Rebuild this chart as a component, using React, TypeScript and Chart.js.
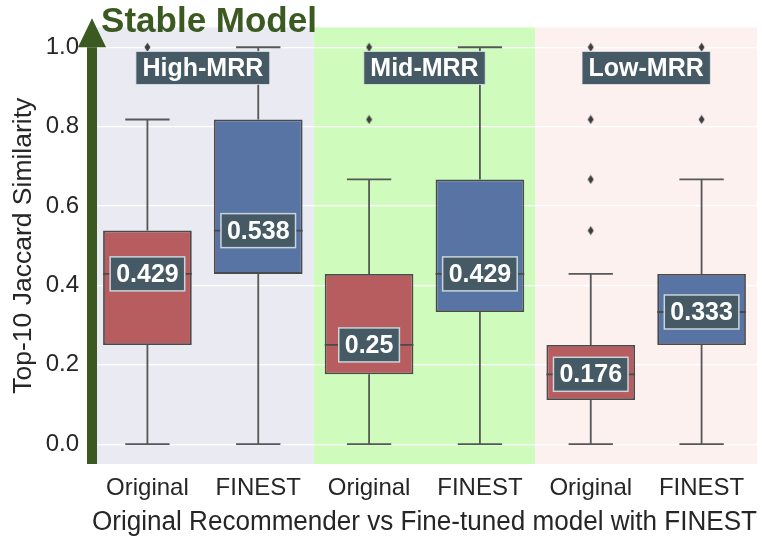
import React, { useEffect, useRef } from 'react';
import { Chart, registerables } from 'chart.js';

Chart.register(...registerables);

const categories = ['Original', 'FINEST', 'Original', 'FINEST', 'Original', 'FINEST'];
const groups = ['High-MRR', 'Mid-MRR', 'Low-MRR'];
const whiskerLow = [0, 0, 0, 0, 0, 0];
const q1 = [0.25, 0.429, 0.176, 0.333, 0.111, 0.25];
const medians = [0.429, 0.538, 0.25, 0.429, 0.176, 0.333];
const q3 = [0.538, 0.818, 0.429, 0.667, 0.25, 0.429];
const whiskerHigh = [0.818, 1.0, 0.667, 1.0, 0.429, 0.667];
const outliers = [[1.0], [], [1.0, 0.818], [], [1.0, 0.818, 0.667, 0.538], [1.0, 0.818]];
const yTicks = [0, 0.2, 0.4, 0.6, 0.8, 1.0];
const medianLabels = ['0.429', '0.538', '0.25', '0.429', '0.176', '0.333'];

const FONT = "'Liberation Sans', Arial, sans-serif";
const panelColors = ['#eaeaf2', '#cffcbd', '#fdf1f0'];
const boxColors = ['#b75d60', '#5874a4', '#b75d60', '#5874a4', '#b75d60', '#5874a4'];
const LINE = '#575757';
const LABEL_BG = '#455a64';
const GREEN = '#3a5a22';

function makeDiamond(): HTMLCanvasElement {
  const c = document.createElement('canvas');
  c.width = 7;
  c.height = 10;
  const g = c.getContext('2d')!;
  g.fillStyle = '#3d3d3d';
  g.beginPath();
  g.moveTo(3.5, 0.5);
  g.lineTo(6.5, 5);
  g.lineTo(3.5, 9.5);
  g.lineTo(0.5, 5);
  g.closePath();
  g.fill();
  return c;
}

const extras = {
  id: 'extras',
  beforeDraw(chart: any) {
    const { ctx, chartArea, scales } = chart;
    const x = scales.x;
    const half = (x.getPixelForValue(1) - x.getPixelForValue(0)) / 2;
    ctx.save();
    panelColors.forEach((c, g) => {
      const l = x.getPixelForValue(2 * g) - half;
      const r = x.getPixelForValue(2 * g + 1) + half;
      ctx.fillStyle = c;
      ctx.fillRect(l, chartArea.top, r - l, chartArea.bottom - chartArea.top);
    });
    ctx.restore();
  },
  beforeDatasetsDraw(chart: any) {
    const { ctx, scales } = chart;
    const x = scales.x, y = scales.y;
    const bw = (x.getPixelForValue(1) - x.getPixelForValue(0)) * 0.8;
    ctx.save();
    ctx.strokeStyle = LINE;
    ctx.lineWidth = 1.8;
    categories.forEach((_, i) => {
      const cx = x.getPixelForValue(i);
      const segs = [[q3[i], whiskerHigh[i]], [q1[i], whiskerLow[i]]];
      segs.forEach(([a, b]) => {
        ctx.beginPath();
        ctx.moveTo(cx, y.getPixelForValue(a));
        ctx.lineTo(cx, y.getPixelForValue(b));
        ctx.moveTo(cx - bw / 4, y.getPixelForValue(b));
        ctx.lineTo(cx + bw / 4, y.getPixelForValue(b));
        ctx.stroke();
      });
    });
    ctx.restore();
  },
  afterDatasetsDraw(chart: any) {
    const { ctx, scales, chartArea } = chart;
    const x = scales.x, y = scales.y;
    const bw = (x.getPixelForValue(1) - x.getPixelForValue(0)) * 0.8;
    ctx.save();
    categories.forEach((_, i) => {
      const cx = x.getPixelForValue(i);
      const my = y.getPixelForValue(medians[i]);
      ctx.strokeStyle = '#4a4a4a';
      ctx.lineWidth = 1.8;
      ctx.beginPath();
      ctx.moveTo(cx - bw / 2, my);
      ctx.lineTo(cx + bw / 2, my);
      ctx.stroke();
      ctx.font = `bold 25px ${FONT}`;
      const tw = ctx.measureText(medianLabels[i]).width;
      const w = tw + 12, h = 34;
      ctx.fillStyle = LABEL_BG;
      ctx.fillRect(cx - w / 2, my - h / 2, w, h);
      ctx.strokeStyle = '#c9d4db';
      ctx.lineWidth = 1.5;
      ctx.strokeRect(cx - w / 2, my - h / 2, w, h);
      ctx.fillStyle = '#ffffff';
      ctx.textAlign = 'center';
      ctx.textBaseline = 'middle';
      ctx.fillText(medianLabels[i], cx, my + 1);
    });
    const half = (x.getPixelForValue(1) - x.getPixelForValue(0)) / 2;
    groups.forEach((g, gi) => {
      const l = x.getPixelForValue(2 * gi) - half;
      const r = x.getPixelForValue(2 * gi + 1) + half;
      const cx = (l + r) / 2;
      const cy = chartArea.top + 40.5;
      ctx.font = `bold 25px ${FONT}`;
      const tw = ctx.measureText(g).width;
      const w = tw + 13, h = 33;
      ctx.fillStyle = LABEL_BG;
      ctx.fillRect(cx - w / 2, cy - h / 2, w, h);
      ctx.strokeStyle = '#dfe6ea';
      ctx.lineWidth = 0.8;
      ctx.strokeRect(cx - w / 2, cy - h / 2, w, h);
      ctx.fillStyle = '#ffffff';
      ctx.textAlign = 'center';
      ctx.textBaseline = 'middle';
      ctx.fillText(g, cx, cy + 1);
    });
    ctx.restore();
  },
  afterDraw(chart: any) {
    const { ctx, chartArea, scales } = chart;
    const y = scales.y;
    const ax = chartArea.left;
    const headBase = y.getPixelForValue(1.0);
    ctx.save();
    ctx.fillStyle = GREEN;
    ctx.fillRect(ax - 5, headBase, 10, chartArea.bottom - headBase);
    ctx.beginPath();
    ctx.moveTo(ax - 14, headBase);
    ctx.lineTo(ax + 14, headBase);
    ctx.lineTo(ax, headBase - 29);
    ctx.closePath();
    ctx.fill();
    ctx.font = `bold 35px ${FONT}`;
    ctx.textAlign = 'center';
    ctx.textBaseline = 'alphabetic';
    ctx.fillText('Stable Model', ax + 117, 32);
    ctx.restore();
  },
};

export default function App() {
  const ref = useRef<HTMLCanvasElement>(null);
  useEffect(() => {
    if (!ref.current) return;
    const keys = categories.map((_, i) => String(i));
    const outlierPts: { x: string; y: number }[] = [];
    outliers.forEach((arr, i) => arr.forEach((v) => outlierPts.push({ x: keys[i], y: v })));
    const chart = new Chart(ref.current, {
      type: 'bar',
      data: {
        labels: keys,
        datasets: [
          {
            type: 'bar',
            data: categories.map((_, i) => [q1[i], q3[i]]) as any,
            backgroundColor: boxColors,
            borderColor: '#4a4a4a',
            borderWidth: 1.8,
            borderSkipped: false,
            barPercentage: 0.8,
            categoryPercentage: 1,
            order: 2,
          } as any,
          {
            type: 'scatter',
            data: outlierPts,
            pointStyle: makeDiamond(),
            pointRadius: 4,
            showLine: false,
            order: 1,
          } as any,
        ],
      },
      options: {
        responsive: false,
        animation: false,
        layout: { padding: { top: 23, right: 5, left: 0, bottom: 0 } },
        plugins: { legend: { display: false }, tooltip: { enabled: false } },
        scales: {
          x: {
            type: 'category',
            offset: true,
            grid: { display: false },
            border: { display: false },
            ticks: {
              color: '#262626',
              font: { family: FONT, size: 24 },
              padding: 2,
              maxRotation: 0,
              callback: (_v: any, i: number) => categories[i],
            },
            title: {
              display: true,
              text: 'Original Recommender vs Fine-tuned model with FINEST',
              color: '#262626',
              font: { family: FONT, size: 27 },
              padding: { top: 0, bottom: 0 },
            },
            afterFit: (s: any) => { s.height = 75; },
          },
          y: {
            min: -0.05,
            max: 1.05,
            afterBuildTicks: (s: any) => { s.ticks = yTicks.map((v) => ({ value: v })); },
            grid: { color: '#ffffff', lineWidth: 1.3, drawTicks: false },
            border: { display: false },
            ticks: {
              color: '#262626',
              font: { family: FONT, size: 24 },
              padding: 13,
              callback: (v: any) => Number(v).toFixed(1),
            },
            title: {
              display: true,
              text: 'Top-10 Jaccard Similarity',
              color: '#262626',
              font: { family: FONT, size: 26.5 },
              padding: { top: 8, bottom: 0 },
            },
            afterFit: (s: any) => { s.width = 92; },
          },
        },
      },
      plugins: [extras],
    });
    return () => chart.destroy();
  }, []);
  return (
    <div style={{ position: 'absolute', left: 0, top: 0, width: 762, height: 539, background: '#ffffff' }}>
      <canvas ref={ref} width={762} height={539} style={{ display: 'block' }} />
    </div>
  );
}
